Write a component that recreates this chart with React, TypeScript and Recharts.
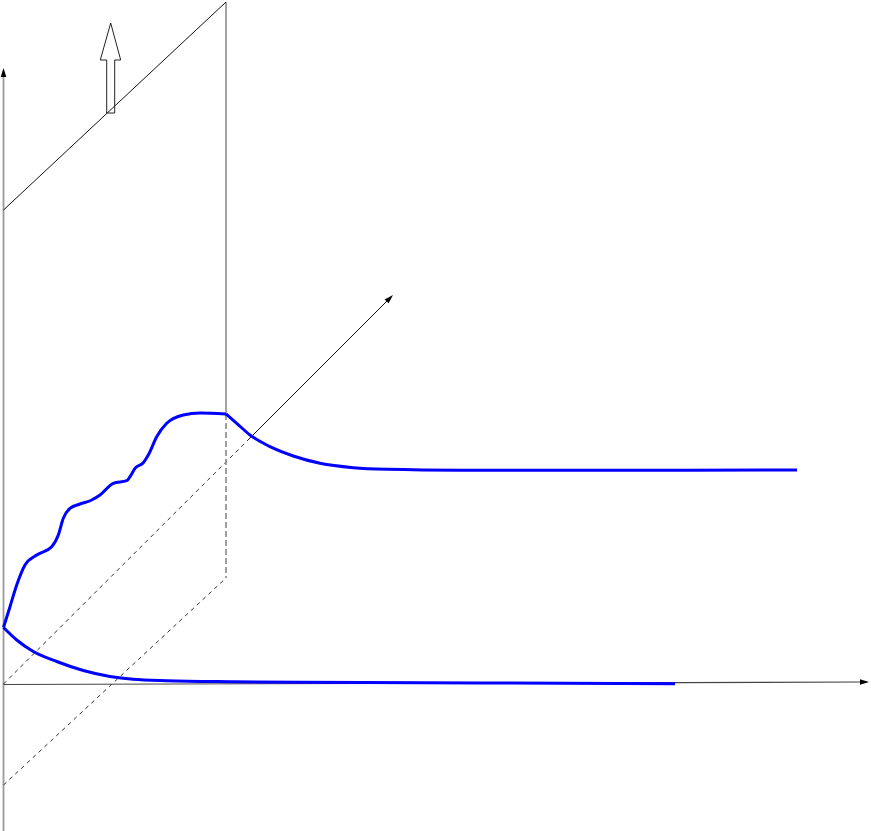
import React from 'react';
import { ComposedChart, Line, Scatter, XAxis, YAxis, ReferenceLine } from 'recharts';

const W = 871;
const H = 831;

// diagram coordinates: x to the right, y downward (y axis is reversed)
const lowerCurve = [
  { x: 3.5, y: 627.5 }, { x: 16.7, y: 640 }, { x: 33.3, y: 651.5 }, { x: 56.7, y: 661.5 },
  { x: 83.3, y: 670.5 }, { x: 110, y: 676.5 }, { x: 133, y: 679.3 }, { x: 167, y: 680.7 },
  { x: 233, y: 681.7 }, { x: 300, y: 682.3 }, { x: 480, y: 683 }, { x: 675, y: 683.7 },
];

const upperCurve = [
  { x: 3.5, y: 627.5 }, { x: 10, y: 606.7 }, { x: 16.7, y: 585 }, { x: 25, y: 565 },
  { x: 36.7, y: 555 }, { x: 51.7, y: 546.7 }, { x: 58.3, y: 535 }, { x: 63.3, y: 518.3 },
  { x: 70, y: 508.3 }, { x: 80, y: 504 }, { x: 91.7, y: 500 }, { x: 100, y: 495 },
  { x: 113.3, y: 483.3 }, { x: 126.7, y: 480.7 }, { x: 130, y: 476.7 }, { x: 135, y: 468.3 },
  { x: 143.3, y: 462.7 }, { x: 148.3, y: 455 }, { x: 156.7, y: 436.7 }, { x: 166.7, y: 423.3 },
  { x: 183.3, y: 415 }, { x: 200, y: 413 }, { x: 226, y: 414 },
];

const decayCurve = [
  { x: 226, y: 414 }, { x: 236.7, y: 423.3 }, { x: 250, y: 435 }, { x: 270, y: 446.7 },
  { x: 293.3, y: 456 }, { x: 320, y: 463.3 }, { x: 353.3, y: 467.7 }, { x: 386.7, y: 469.3 },
  { x: 460, y: 470.2 }, { x: 600, y: 470.3 }, { x: 797, y: 470 },
];

// hollow arrow outline
const liftArrow = [
  { x: 106.7, y: 113 }, { x: 106.7, y: 60 }, { x: 100.3, y: 60 }, { x: 110.7, y: 23 },
  { x: 120.7, y: 60 }, { x: 114.7, y: 60 }, { x: 114.7, y: 113 }, { x: 106.7, y: 113 },
];

const axisTips = [
  { x: 3.5, y: 68, angle: -90 },
  { x: 869, y: 682, angle: 0 },
  { x: 393, y: 295, angle: -45 },
];

const solidEdges = [
  [{ x: 3.5, y: 210 }, { x: 226, y: 2 }],
  [{ x: 248, y: 440 }, { x: 390, y: 298 }],
];
const grayEdges = [
  [{ x: 3.5, y: 831 }, { x: 3.5, y: 74 }],
  [{ x: 226, y: 2 }, { x: 226, y: 414 }],
];
const baseAxis = [{ x: 3.5, y: 684.5 }, { x: 863, y: 682 }];
const dashedDiagonals = [
  [{ x: 3.5, y: 684 }, { x: 248, y: 440 }],
  [{ x: 3.5, y: 785 }, { x: 226, y: 578 }],
];
const dashedUpright = [{ x: 226, y: 414 }, { x: 226, y: 578 }];

const ArrowHead = (props: any) => {
  const { cx, cy, payload } = props;
  if (cx == null || cy == null) return null;
  return (
    <polygon
      points="0,0 -9,-2.8 -9,2.8"
      fill="#000"
      transform={`translate(${cx},${cy}) rotate(${payload.angle})`}
    />
  );
};

export default function App() {
  return (
    <div style={{ position: 'absolute', left: 0, top: 0, background: '#fff' }}>
      <ComposedChart width={W} height={H} margin={{ top: 0, right: 0, bottom: 0, left: 0 }}>
        <XAxis type="number" dataKey="x" domain={[0, W]} hide allowDataOverflow />
        <YAxis type="number" dataKey="y" domain={[0, H]} reversed hide width={0} allowDataOverflow />

        {grayEdges.map((s, i) => (
          <ReferenceLine key={`g${i}`} segment={s} stroke="#9a9a9a" strokeWidth={1.8} ifOverflow="visible" />
        ))}
        {solidEdges.map((s, i) => (
          <ReferenceLine key={`s${i}`} segment={s} stroke="#111" strokeWidth={1} ifOverflow="visible" />
        ))}
        <ReferenceLine segment={baseAxis} stroke="#444" strokeWidth={1.2} ifOverflow="visible" />
        {dashedDiagonals.map((s, i) => (
          <ReferenceLine key={`d${i}`} segment={s} stroke="#333" strokeWidth={1} strokeDasharray="4 4" ifOverflow="visible" />
        ))}
        <ReferenceLine segment={dashedUpright} stroke="#888" strokeWidth={1.6} strokeDasharray="6 3" ifOverflow="visible" />

        <Line data={liftArrow} dataKey="y" type="linear" stroke="#222" strokeWidth={1} dot={false} activeDot={false} isAnimationActive={false} />
        <Line data={lowerCurve} dataKey="y" type="monotone" stroke="#0000ff" strokeWidth={3} dot={false} activeDot={false} isAnimationActive={false} />
        <Line data={upperCurve} dataKey="y" type="monotone" stroke="#0000ff" strokeWidth={3} dot={false} activeDot={false} isAnimationActive={false} />
        <Line data={decayCurve} dataKey="y" type="monotone" stroke="#0000ff" strokeWidth={3} dot={false} activeDot={false} isAnimationActive={false} />

        <Scatter data={axisTips} dataKey="y" shape={ArrowHead} isAnimationActive={false} />
      </ComposedChart>
    </div>
  );
}
